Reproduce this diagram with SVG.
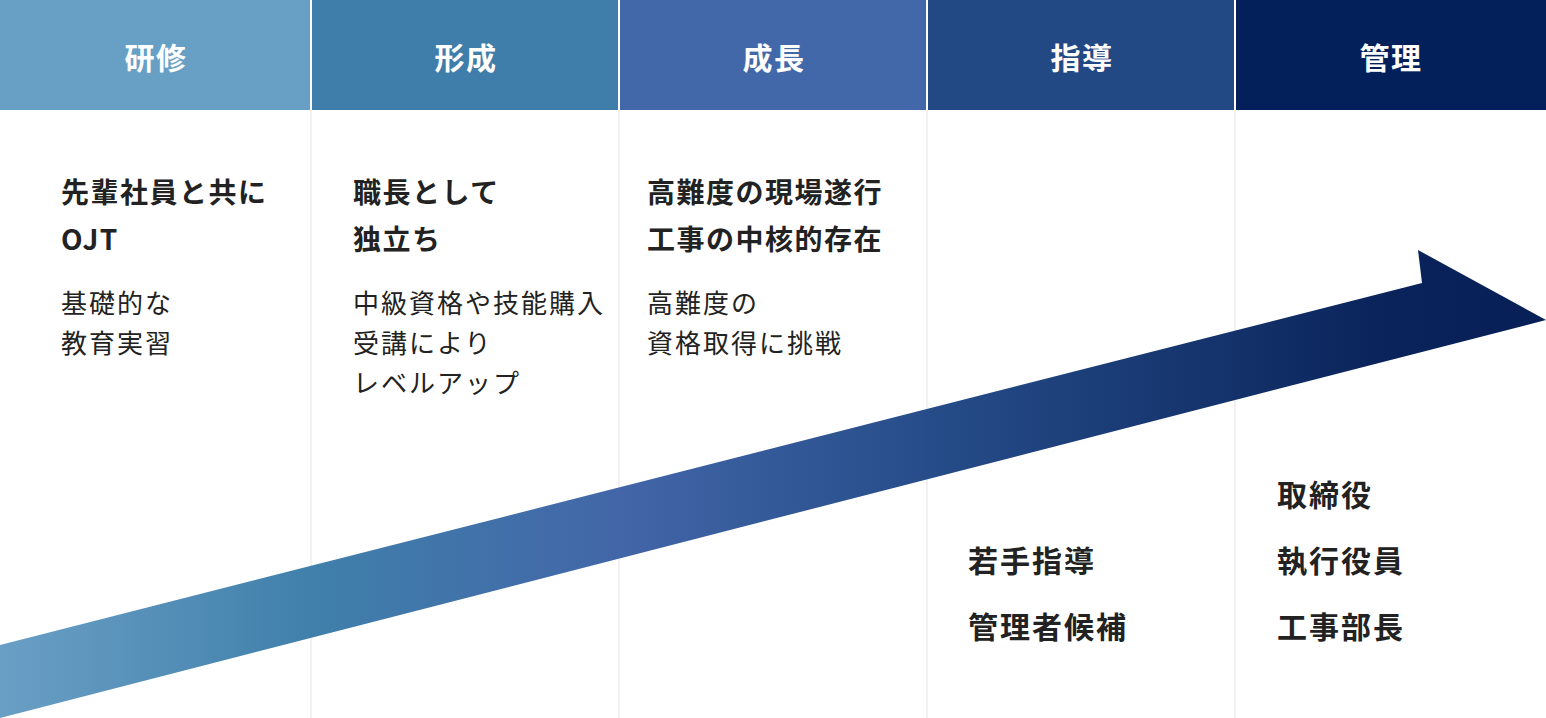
<svg xmlns="http://www.w3.org/2000/svg" width="1546" height="718" viewBox="0 0 1546 718">
<defs>
<style>
.hd{font-family:"Noto Sans CJK JP","Noto Sans",sans-serif;font-weight:700;font-size:30px;fill:#ffffff;text-anchor:middle;letter-spacing:1.5px}
.tt{font-family:"Noto Sans CJK JP","Noto Sans",sans-serif;font-weight:700;font-size:28px;fill:#222222;letter-spacing:1.5px}
.ds{font-family:"Noto Sans CJK JP","Noto Sans",sans-serif;font-weight:400;font-size:26px;fill:#222222;letter-spacing:2px}
.bg{font-family:"Noto Sans CJK JP","Noto Sans",sans-serif;font-weight:700;font-size:30px;fill:#222222;letter-spacing:2px}
.sep{stroke:#ececec;stroke-width:1.5}
</style>
<linearGradient id="arrowGrad" x1="0" y1="0" x2="1546" y2="0" gradientUnits="userSpaceOnUse">
<stop offset="0" stop-color="#6a9fc5"/>
<stop offset="0.2" stop-color="#4080ab"/>
<stop offset="0.4" stop-color="#4266a8"/>
<stop offset="0.62" stop-color="#244a86"/>
<stop offset="0.9" stop-color="#0a235a"/>
<stop offset="1" stop-color="#061f57"/>
</linearGradient>
</defs>
<rect x="0" y="0" width="1546" height="718" fill="#ffffff"/>
<g id="separators">
<line class="sep" x1="311" y1="110" x2="311" y2="718"/>
<line class="sep" x1="619" y1="110" x2="619" y2="718"/>
<line class="sep" x1="927" y1="110" x2="927" y2="718"/>
<line class="sep" x1="1235" y1="110" x2="1235" y2="718"/>
</g>
<g id="header-kenshu"><rect x="0" y="0" width="310" height="110" fill="#689fc4"/><text class="hd" x="156" y="69">研修</text></g>
<g id="header-keisei"><rect x="312" y="0" width="306" height="110" fill="#3f7eaa"/><text class="hd" x="466" y="69">形成</text></g>
<g id="header-seicho"><rect x="620" y="0" width="306" height="110" fill="#4368a9"/><text class="hd" x="774" y="69">成長</text></g>
<g id="header-shido"><rect x="928" y="0" width="306" height="110" fill="#234985"/><text class="hd" x="1082" y="69">指導</text></g>
<g id="header-kanri"><rect x="1236" y="0" width="310" height="110" fill="#04205a"/><text class="hd" x="1391" y="69">管理</text></g>
<g id="connectors">
<polygon points="0,645 1422,283 1418,250 1546,320 0,718" fill="url(#arrowGrad)"/>
</g>
<g id="col-kenshu">
<text class="tt" x="61" y="203">先輩社員と共に</text>
<text class="tt" x="61" y="250">OJT</text>
<text class="ds" x="61" y="313">基礎的な</text>
<text class="ds" x="61" y="353">教育実習</text>
</g>
<g id="col-keisei">
<text class="tt" x="353" y="203">職長として</text>
<text class="tt" x="353" y="250">独立ち</text>
<text class="ds" x="353" y="313">中級資格や技能購入</text>
<text class="ds" x="353" y="353">受講により</text>
<text class="ds" x="353" y="393">レベルアップ</text>
</g>
<g id="col-seicho">
<text class="tt" x="647" y="203">高難度の現場遂行</text>
<text class="tt" x="647" y="250">工事の中核的存在</text>
<text class="ds" x="647" y="313">高難度の</text>
<text class="ds" x="647" y="353">資格取得に挑戦</text>
</g>
<g id="col-shido">
<text class="bg" x="968" y="572">若手指導</text>
<text class="bg" x="968" y="638">管理者候補</text>
</g>
<g id="col-kanri">
<text class="bg" x="1277" y="506">取締役</text>
<text class="bg" x="1277" y="572">執行役員</text>
<text class="bg" x="1277" y="638">工事部長</text>
</g>
</svg>
